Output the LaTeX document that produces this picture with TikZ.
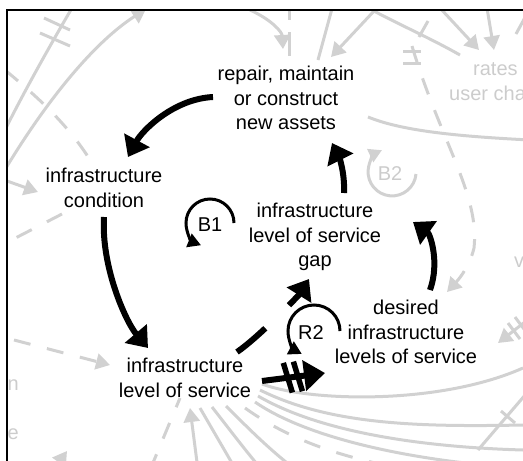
\documentclass[tikz,border=0pt]{standalone}
\usepackage{fontspec}
\setmainfont{Liberation Sans}
\usetikzlibrary{arrows.meta,calc}
\definecolor{bgc}{gray}{0.82}
\definecolor{bgt}{gray}{0.80}
\tikzset{
  lbl/.style={align=center, font=\fontsize{20}{24.5}\selectfont, inner sep=0pt},
  glbl/.style={font=\fontsize{20}{24.5}\selectfont, text=bgt, inner sep=0pt},
  blk/.style={line width=6pt, -{Triangle[length=19pt,width=28pt]}},
  loopar/.style={line width=3pt, -{Triangle[length=13pt,width=14pt]}},
  gl/.style={draw=bgc, line width=3pt},
  gar/.style={gl, -{Triangle[length=14pt,width=16pt]}},
  gdash/.style={dash pattern=on 17pt off 17pt},
  dbar/.style={fill=black, minimum width=5.5pt, minimum height=31pt, inner sep=0pt, rotate=17}
}
\begin{document}
\begin{tikzpicture}[x=1pt,y=-1pt]
\useasboundingbox (0,0) rectangle (523,461);
% ---------- faded background ----------
\begin{scope}
\clip (8,11) rectangle (523,461);
\draw[gl] (72,8) .. controls (52,42) and (22,95) .. (0,140);
\draw[gl] (44,18) -- (70,30);
\draw[gl] (40,33) -- (70,46);
\draw[gar] (0,178) .. controls (40,110) and (90,45) .. (146,9);
\draw[gl,gdash] (5,70) .. controls (35,95) and (70,125) .. (95,168);
\draw[gar] (7,181) -- (38,192);
\draw[gl,gdash] (62,214) -- (0,246);
\draw[gar,gdash] (14,340) -- (110,365);
\draw[gar] (45,482) -- (67,451);
\draw[gl,gdash] (150,470) -- (180,398);
\draw[gar] (198,470) -- (190,408);
\draw[gl] (200,408) -- (236,470);
\draw[gl] (212,407) .. controls (230,430) and (245,450) .. (262,470);
\draw[gl] (226,406) .. controls (250,430) and (270,450) .. (296,470);
\draw[gl,gdash] (245,408) .. controls (290,440) and (340,458) .. (420,472);
\draw[gl] (255,402) .. controls (310,440) and (420,462) .. (523,468);
\draw[gl] (258,396) .. controls (320,432) and (420,447) .. (523,450);
\draw[gl] (260,390) .. controls (330,425) and (420,427) .. (523,425);
\draw[gl] (262,384) .. controls (310,402) and (440,405) .. (523,368);
\draw[gl] (478,450) -- (526,394);
\draw[gl] (501,411) -- (515,423);
\draw[gar] (530,318) -- (498,343);
\draw[gl] (508,323) -- (520,339);
\draw[gl] (515,317) -- (527,333);
\draw[gar,gdash] (412,46) .. controls (440,140) and (480,195) .. (474,248) .. controls (470,265) and (460,278) .. (447,292);
\draw[gl] (403,51) -- (421,51);
\draw[gl] (403,63) -- (421,63);
\draw[gl] (368,117) .. controls (400,130) and (450,136) .. (530,140);
\draw[gar] (250,10) .. controls (272,20) and (282,32) .. (283,49);
\draw[gl, dash pattern=on 24pt off 12pt] (289,-4) -- (289,58);
\draw[gl] (333,5) -- (318,60);
\draw[gar] (375,10) -- (331,57);
\draw[gl] (372,10) .. controls (400,25) and (430,38) .. (460,55);
\draw[gl] (419,37) -- (428,21);
\draw[gar] (440,8) -- (479,50);
\draw[gar] (487,8) -- (494,50);
\draw[gl] (528,12) -- (516,34);
\node[glbl, anchor=base west] (rates) at (473,75) {rates};
\node[glbl, anchor=base west] (user) at (449,100) {user cha};
\node[glbl, anchor=base east] (gn) at (19,390) {n};
\node[glbl, anchor=base east] (ge) at (19,439) {e};
\node[glbl, anchor=base west] (gv) at (514,267) {v};
\node[glbl] (b2) at (390,174) {B2};
\draw[gl, line width=3pt, -{Triangle[length=13pt,width=14pt]}] ([shift={(26,0)}]b2.center) arc[start angle=5, end angle=245, radius=24];
\end{scope}
% ---------- frame ----------
\draw[line width=2.5pt] (7,462) -- (7,10) -- (523,10);
% ---------- nodes ----------
\node[lbl] (rep) at (286,98) {repair, maintain\\or construct\\new assets};
\node[lbl] (cond) at (104,188) {infrastructure\\condition};
\node[lbl] (los) at (185,378) {infrastructure\\level of service};
\node[lbl] (gap) at (315,237) {infrastructure\\level of service\\gap};
\node[lbl] (des) at (406,332) {desired\\infrastructure\\levels of service};
\node[lbl] (b1) at (210,225) {B1};
\node[lbl] (r2) at (311,333) {R2};
% ---------- links ----------
\draw[blk] ([shift={(-73,-1)}]rep.center) .. controls +(-40,2) and +(14,-26) .. ([shift={(24,-31)}]cond.center);
\draw[blk] ([shift={(0,29)}]cond.center) .. controls +(-3,50) and +(-22,-26) .. ([shift={(-37,-30)}]los.center);
\draw[blk, dash pattern=on 37pt off 33pt] ([shift={(52,-26)}]los.center) .. controls +(22,-15) and +(-10,16) .. ([shift={(-6,42)}]gap.center);
\draw[blk] ([shift={(29,-44)}]gap.center) .. controls +(1,-20) and +(7,14) .. ([shift={(46,45)}]rep.center);
\draw[blk] ([shift={(24,-42)}]des.center) .. controls +(10,-28) and +(17,12) .. ([shift={(98,-15)}]gap.center);
\coordinate (s6) at ([shift={(77,3)}]los.center);
\coordinate (e6) at ([shift={(-81,41)}]des.center);
\draw[line width=6pt, -{Triangle[length=21pt,width=30pt]}] (s6) -- (e6);
\path (s6) -- (e6) node[pos=0.41, dbar] (d1) {} node[pos=0.57, dbar] (d2) {};
% ---------- loop markers ----------
\draw[loopar] ([shift={(24,-2)}]b1.center) arc[start angle=0, end angle=-248, radius=24];
\draw[loopar] ([shift={(29,-2)}]r2.center) arc[start angle=0, end angle=-242, radius=26];
\end{tikzpicture}
\end{document}
